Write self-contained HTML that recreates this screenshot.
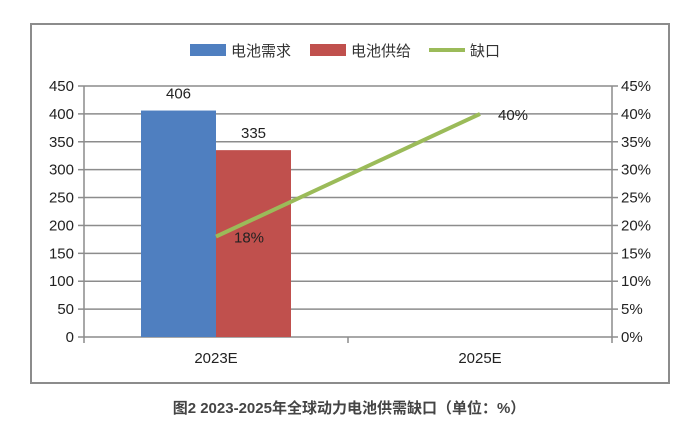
<!DOCTYPE html>
<html><head><meta charset="utf-8"><style>
body{margin:0;background:#fff;width:698px;height:423px;overflow:hidden;font-family:"Liberation Sans","Noto Sans CJK SC",sans-serif}
</style></head><body>
<svg width="698" height="423" font-family="Liberation Sans, Noto Sans CJK SC, sans-serif">
<rect x="31" y="24" width="638" height="359" fill="#fff" stroke="#8c8c8c" stroke-width="2"/>
<g id="grid"></g><g id="bars"></g><g id="line"></g><g id="axes"></g>
<g font-size="15" fill="#333">
<rect x="190" y="44" width="36" height="12" fill="#4f7fc0"/>
<text x="231" y="56">电池需求</text>
<rect x="310" y="44" width="36" height="12" fill="#c0504d"/>
<text x="351" y="56">电池供给</text>
<line x1="429" y1="50" x2="465" y2="50" stroke="#9bbb59" stroke-width="4"/>
<text x="470" y="56">缺口</text>
</g>
<text x="349" y="413" text-anchor="middle" font-size="15" font-weight="bold" fill="#444">图2 2023-2025年全球动力电池供需缺口（单位：%）</text>
</svg>
<script>
const categories=["2023E","2025E"];
const demand=[406,null];
const supply=[335,null];
const gap=[18,40];
const leftTicks=[0,50,100,150,200,250,300,350,400,450];
const rightTicks=["0%","5%","10%","15%","20%","25%","30%","35%","40%","45%"];
const NS="http://www.w3.org/2000/svg";
const L=84,R=612,T=86,B=337;
const yL=v=>B-v/450*(B-T), yR=v=>B-v/45*(B-T);
const cw=(R-L)/categories.length, xc=i=>L+cw*(i+0.5);
function mk(g,tag,a,txt){const e=document.createElementNS(NS,tag);for(const k in a)e.setAttribute(k,a[k]);if(txt!=null)e.textContent=txt;document.getElementById(g).appendChild(e);return e;}
leftTicks.forEach((v,i)=>{const y=yL(v);
 const gl=mk("grid","line",{x1:L,x2:R,y1:y,y2:y,stroke:"#8c8c8c","stroke-width":1.5});
 
 
 const t1=mk("axes","line",{x1:L-6,x2:L,y1:y,y2:y,stroke:"#8c8c8c","stroke-width":1.5});
 
 
 const t2=mk("axes","line",{x1:R,x2:R+6,y1:y,y2:y,stroke:"#8c8c8c","stroke-width":1.5});
 
 
 const l=mk("axes","text",{x:L-10,y:y+5,"text-anchor":"end","font-size":15,fill:"#222"},v);
 
 
 const r=mk("axes","text",{x:R+9,y:y+5,"font-size":15,fill:"#222"},rightTicks[i]);
 
 
});
[L,R].forEach(x=>{const a=mk("axes","line",{x1:x,x2:x,y1:T,y2:B+6,stroke:"#8c8c8c","stroke-width":1.5});
 
 });
for(let i=1;i<categories.length;i++){const t=mk("axes","line",{x1:L+cw*i,x2:L+cw*i,y1:B,y2:B+6,stroke:"#8c8c8c","stroke-width":1.5});
 
 }
categories.forEach((c,i)=>{const t=mk("axes","text",{x:xc(i),y:B+26,"text-anchor":"middle","font-size":15,fill:"#222"},c);
 
 });
const bw=75;
[[demand,"#4f7fc0",-1,"bar-demand"],[supply,"#c0504d",0,"bar-supply"]].forEach(([s,col,off,nm])=>{
 s.forEach((v,i)=>{if(v==null)return;const x=xc(i)+off*bw;
  const b=mk("bars","rect",{x:x,y:yL(v),width:bw,height:B-yL(v),fill:col});
  
  
  const t=mk("bars","text",{x:x+bw/2,y:yL(v)-12,"text-anchor":"middle","font-size":15,fill:"#222"},v);
  
  });});
const pts=gap.map((v,i)=>xc(i)+","+yR(v)).join(" ");
const pl=mk("line","polyline",{points:pts,fill:"none",stroke:"#9bbb59","stroke-width":4});


gap.forEach((v,i)=>{const t=mk("line","text",{x:xc(i)+18,y:yR(v)+6,"font-size":15,fill:"#222"},v+"%");
 
 });
</script>
</body></html>
